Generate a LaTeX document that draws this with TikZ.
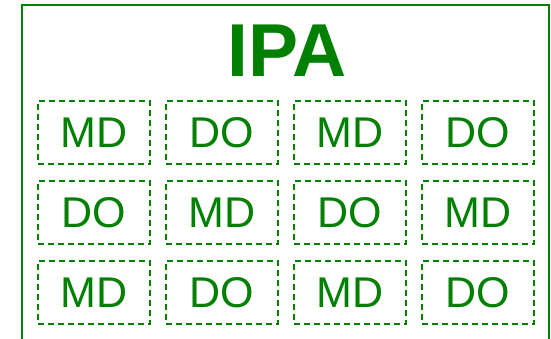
\documentclass[tikz,border=0pt]{standalone}
\usepackage{fontspec}
\setmainfont{Liberation Sans}
\usetikzlibrary{calc}

\begin{document}
\begin{tikzpicture}[x=1pt,y=-1pt,inner sep=0pt,
  cell/.style={draw=green!50!black,dashed,dash pattern=on 6pt off 4pt,line width=1.5pt,
    minimum width=112pt,minimum height=63pt,text=green!50!black,font=\fontsize{43}{43}\selectfont}]
\clip (0,0) rectangle (551,338);
\def\u{128}
\def\v{80}
\draw[green!50!black,line width=2pt] (22,5) rectangle (549,360);
\node[text=green!50!black,font=\bfseries\fontsize{75}{75}\selectfont] (t) at (287,51) {IPA};
\foreach \r in {0,1,2} {
  \foreach \c in {0,1,2,3} {
    \pgfmathsetmacro{\s}{int(mod(\r+\c,2))}
    \ifnum\s=0 \def\lbl{MD}\else\def\lbl{DO}\fi
    \node[cell] (b\r\c) at (94+\c*\u, 132.5+\r*\v) {\lbl};
  }
}
\end{tikzpicture}
\end{document}
